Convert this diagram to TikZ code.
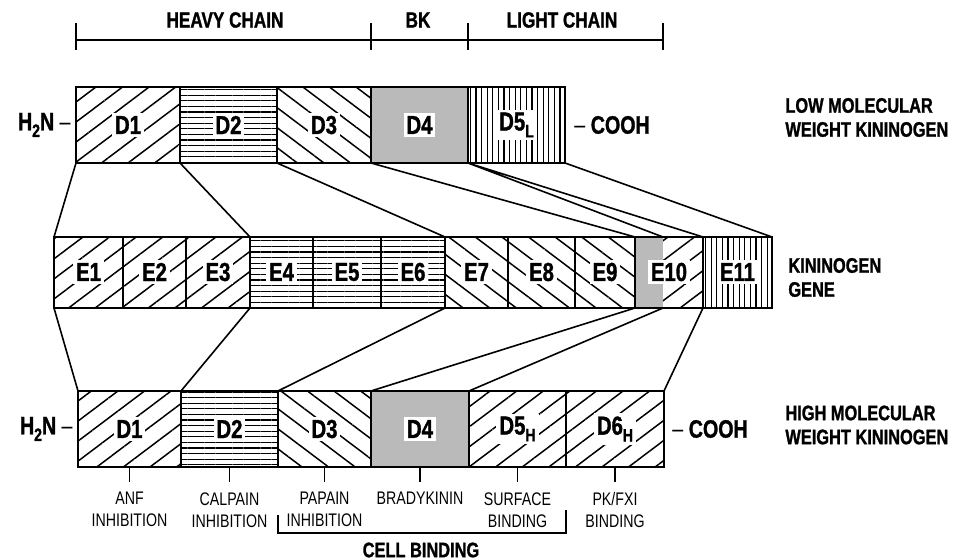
\documentclass[tikz,border=0pt]{standalone}
\usepackage{fontspec}
\setmainfont[FakeStretch=0.78, BoldFeatures={FakeBold=1.2}]{Liberation Sans}
\usetikzlibrary{patterns.meta}

\newcommand{\dsub}[1]{\raisebox{-0.5ex}{\fontsize{9}{9}\selectfont #1}}

\tikzset{
  box/.style={draw, line width=1pt},
  fwd/.style={pattern={Lines[angle=37,distance=8pt,line width=0.75pt]}},
  bwd/.style={pattern={Lines[angle=-37,distance=8pt,line width=0.75pt]}},
  hor/.style={pattern={Lines[angle=0,distance=2.8pt,line width=0.65pt]}},
  ver/.style={pattern={Lines[angle=90,distance=2.8pt,line width=0.65pt]}},
  grey/.style={fill=black!27},
  tag/.style={fill=white, inner sep=1.5pt, font=\bfseries\fontsize{13}{14}\selectfont},
  link/.style={line width=0.8pt},
  head/.style={font=\bfseries\fontsize{11}{12}\selectfont},
  side/.style={anchor=west, align=left, inner sep=0pt, font=\bfseries\fontsize{10.5}{12}\selectfont},
  role/.style={anchor=north, align=center, inner xsep=0pt, inner ysep=5pt, font=\fontsize{9.1}{11}\selectfont},
  term/.style={inner sep=0pt, font=\fontsize{12.6}{14}\selectfont},
}

\begin{document}
\begin{tikzpicture}[x=0.5pt, y=-0.5pt]
    \useasboundingbox (0,0) rectangle (953,560);

    % chain brackets
    \draw[link] (76,40) -- (663,40);
    \foreach \x in {76,371,468,663} \draw[link] (\x,23) -- (\x,50);
    \node[head] (heavy) at (225,20) {HEAVY CHAIN};
    \node[head] (bk) at (418,20) {BK};
    \node[head] (light) at (562,20) {LIGHT CHAIN};

    % low molecular weight kininogen
    \foreach \a/\b/\p/\t [count=\i] in {76/180/fwd/D1, 180/277/hor/D2, 277/371/bwd/D3, 371/468/grey/D4, 468/565/ver/D5\dsub{L}} {
        \draw[box,\p] (\a,87) rectangle (\b,163);
        \node[tag] (ld\i) at ({(\a+\b)/2},125) {\t};
    }
    \foreach \x [count=\i from 0] in {76,180,277,371,468,565} \coordinate (lb\i) at (\x,163);
    \node[term, anchor=east] (lnh) at (71,125) {\textbf{H\dsub{2}N} –};
    \node[term, anchor=west] (lcooh) at (574,125) {– \textbf{COOH}};
    \node[side] (lmw) at (785,117.5) {LOW MOLECULAR\\WEIGHT KININOGEN};

    % kininogen gene
    \foreach \a/\b/\p/\t [count=\i] in {54/123/fwd/E1, 123/186/fwd/E2, 186/250/fwd/E3, 250/313/hor/E4, 313/381/hor/E5, 381/445/hor/E6, 445/508/bwd/E7, 508/575/bwd/E8, 575/635/bwd/E9} {
        \draw[box,\p] (\a,237) rectangle (\b,308);
        \node[tag] (e\i) at ({(\a+\b)/2},272) {\t};
    }
    \fill[grey] (635,237) rectangle (663,308);
    \path[fwd] (663,237) rectangle (703,308);
    \draw[box] (635,237) rectangle (703,308);
    \node[tag] (e10) at (669,272) {E10};
    \draw[box,ver] (703,237) rectangle (772,308);
    \node[tag] (e11) at (737.5,272) {E11};
    \foreach \x [count=\i from 0] in {54,123,186,250,313,381,445,508,575,635,703,772} {
        \coordinate (mt\i) at (\x,237);
        \coordinate (mb\i) at (\x,308);
    }
    \coordinate (mtg) at (663,237);
    \coordinate (mbg) at (663,308);
    \node[side] (gene) at (788,277.5) {KININOGEN\\GENE};

    % high molecular weight kininogen
    \foreach \a/\b/\p/\t [count=\i] in {78/181/fwd/D1, 181/278/hor/D2, 278/371/bwd/D3, 371/469/grey/D4, 469/566/fwd/D5\dsub{H}, 566/664/fwd/D6\dsub{H}} {
        \draw[box,\p] (\a,391) rectangle (\b,467);
        \node[tag] (hd\i) at ({(\a+\b)/2},429) {\t};
    }
    \foreach \x [count=\i from 0] in {78,181,278,371,469,566,664} \coordinate (ht\i) at (\x,391);
    \node[term, anchor=east] (hnh) at (73,429) {\textbf{H\dsub{2}N} –};
    \node[term, anchor=west] (hcooh) at (672,429) {– \textbf{COOH}};
    \node[side] (hmw) at (785,425) {HIGH MOLECULAR\\WEIGHT KININOGEN};

    % exon links
    \draw[link] (lb0) -- (mt0) (lb1) -- (mt3) (lb2) -- (mt6) (lb3) -- (mt9)
                (lb4) -- (mtg) (lb4) -- (mt10) (lb5) -- (mt11);
    \draw[link] (mb0) -- (ht0) (mb3) -- (ht1) (mb6) -- (ht2) (mb9) -- (ht3)
                (mbg) -- (ht4) (mb10) -- (ht6);

    % functions
    \coordinate (hb) at (0,467);
    \foreach \x/\t [count=\i] in {129.5/{ANF\\INHIBITION}, 229.5/{CALPAIN\\INHIBITION}, 324.5/{PAPAIN\\INHIBITION}, 420/BRADYKININ, 517.5/{SURFACE\\BINDING}, 615/{PK/FXI\\BINDING}} {
        \node[role] (fn\i) at (\x,482) {\t};
        \draw[link] (fn\i.north) -- (fn\i.north |- hb);
    }
    \coordinate (cl) at (278,515);
    \coordinate (cr) at (566,510);
    \coordinate (cm) at (0,533);
    \draw[link] (cl) -- (cl |- cm) -- (cr |- cm) -- (cr);
    \node[head, font=\bfseries\fontsize{10.5}{12}\selectfont] (cell) at (421,550) {CELL BINDING};
\end{tikzpicture}
\end{document}
